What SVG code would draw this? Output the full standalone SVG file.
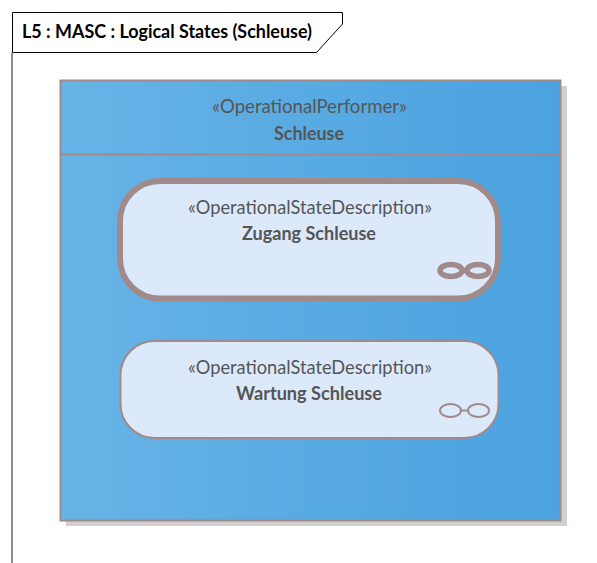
<svg xmlns="http://www.w3.org/2000/svg" width="597" height="563" viewBox="0 0 597 563">
  <style>
    text { font-family: Lato, "Liberation Sans", sans-serif; text-anchor: middle; fill: #555555; }
    .st { font-size: 19px; }
    .nm { font-size: 18.5px; font-weight: 700; }
    .title { font-size: 18.500px; font-weight: 700; fill: #000000; text-anchor: start; }
    .state { fill: #dbe9fb; stroke: #a08a8a; }
    .glyph { fill: none; stroke: #a08a8a; }
  </style>
  <defs>
    <linearGradient id="blue" x1="0" y1="0" x2="1" y2="0">
      <stop offset="0" stop-color="#67b3e6"/>
      <stop offset="1" stop-color="#4aa2df"/>
    </linearGradient>
  </defs>
  <rect width="597" height="563" fill="#ffffff"/>
  <g id="frame">
    <path d="M12.5 52.500V12.500H342.500V24L316.500 52.500H12.500" fill="none" stroke="#000000" stroke-width="1"/>
    <line x1="12" y1="52.500" x2="12" y2="563" stroke="#666666" stroke-width="1.500"/>
    <text class="title" x="22" y="38" textLength="290" lengthAdjust="spacingAndGlyphs">L5 : MASC : Logical States (Schleuse)</text>
  </g>
  <g id="schleuse">
    <rect x="66" y="86" width="501" height="440" fill="#d0d0d0"/>
    <rect x="60.500" y="80.500" width="500" height="440" fill="url(#blue)" stroke="#a08a8a" stroke-width="2"/>
    <line x1="60" y1="154.500" x2="561" y2="154.500" stroke="#a08a8a" stroke-width="2"/>
    <text class="st" x="309.500" y="113" textLength="195" lengthAdjust="spacingAndGlyphs">«OperationalPerformer»</text>
    <text class="nm" x="309" y="139.500" textLength="70" lengthAdjust="spacingAndGlyphs">Schleuse</text>
  </g>
  <g id="zugang">
    <rect class="state" x="120" y="181" width="378" height="117.500" rx="40" ry="40" stroke-width="6"/>
    <text class="st" x="310" y="213.500" textLength="244" lengthAdjust="spacingAndGlyphs">«OperationalStateDescription»</text>
    <text class="nm" x="309" y="239.500" textLength="134" lengthAdjust="spacingAndGlyphs">Zugang Schleuse</text>
    <ellipse class="glyph" cx="451" cy="270.500" rx="11" ry="6" stroke-width="5.500"/>
    <ellipse class="glyph" cx="478" cy="270.500" rx="11" ry="6" stroke-width="5.500"/>
    <line class="glyph" x1="460" y1="270.500" x2="469" y2="270.500" stroke-width="5.500"/>
  </g>
  <g id="wartung">
    <rect class="state" x="120.500" y="341" width="378" height="97" rx="34" ry="34" stroke-width="2"/>
    <text class="st" x="310" y="373.500" textLength="244" lengthAdjust="spacingAndGlyphs">«OperationalStateDescription»</text>
    <text class="nm" x="309" y="399.500" textLength="146" lengthAdjust="spacingAndGlyphs">Wartung Schleuse</text>
    <ellipse class="glyph" cx="450.500" cy="410.500" rx="10.500" ry="6.500" stroke-width="2"/>
    <ellipse class="glyph" cx="478.500" cy="410.500" rx="10.500" ry="6.500" stroke-width="2"/>
    <line class="glyph" x1="461" y1="410.500" x2="468" y2="410.500" stroke-width="2"/>
  </g>
  <g id="connectors"/>
</svg>
